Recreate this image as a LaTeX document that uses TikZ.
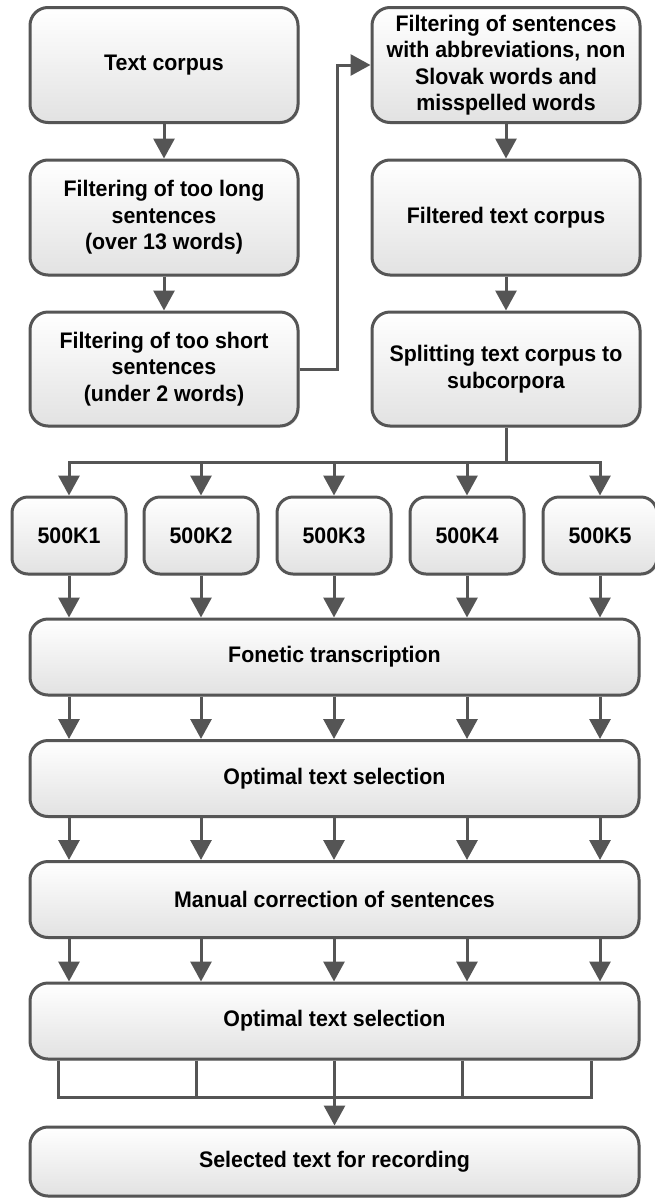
\documentclass[tikz,border=0pt]{standalone}
\usepackage{fontspec}
\setmainfont{Liberation Sans}[FakeStretch=0.95]
\usetikzlibrary{arrows.meta,shadows}

\definecolor{linec}{RGB}{85,85,85}
\definecolor{boxbot}{RGB}{226,226,226}

\tikzset{
  box/.style={draw=linec, line width=3pt, rounded corners=18pt,
    top color=white, bottom color=boxbot, align=center, inner sep=0pt,
    font=\fontsize{22.5}{26.5}\selectfont\bfseries,
    drop shadow={shadow xshift=1.5pt, shadow yshift=-1.5pt, opacity=0.22}},
  colbox/.style={box, minimum width=268pt, minimum height=115pt},
  subbox/.style={box, rounded corners=16pt, minimum width=114pt, minimum height=77pt},
  widebox/.style={box, minimum width=609pt, minimum height=76pt},
  conn/.style={draw=linec, line width=3pt},
  arr/.style={conn, -{Triangle[width=21pt,length=20pt]}}
}

\begin{document}
\begin{tikzpicture}[x=1pt,y=-1pt]
\useasboundingbox (0,0) rectangle (655,1200);

% left column
\node[colbox] (b1) at (164,65)    {Text corpus};
\node[colbox] (b2) at (164,217.5) {Filtering of too long\\sentences\\(over 13 words)};
\node[colbox, minimum height=114pt] (b3) at (164,369) {Filtering of too short\\sentences\\(under 2 words)};

% right column
\node[colbox] (r1) at (506,65)    {Filtering of sentences\\with abbreviations, non\\Slovak words and\\misspelled words};
\node[colbox] (r2) at (506,217.5) {Filtered text corpus};
\node[colbox, minimum height=114pt] (r3) at (506,369) {Splitting text corpus to\\subcorpora};

% subcorpora
\node[subbox] (k1) at (69,535.5)  {500K1};
\node[subbox] (k2) at (201,535.5) {500K2};
\node[subbox] (k3) at (334,535.5) {500K3};
\node[subbox] (k4) at (467,535.5) {500K4};
\node[subbox] (k5) at (600,535.5) {500K5};

% processing stages
\node[widebox] (fon) at (334.5,657)    {Fonetic transcription};
\node[widebox] (op1) at (334.5,778.5)  {Optimal text selection};
\node[widebox] (man) at (334.5,899.5)  {Manual correction of sentences};
\node[widebox] (op2) at (334.5,1021)   {Optimal text selection};
\node[widebox, minimum height=69pt] (sel) at (334.5,1161.5) {Selected text for recording};

% top part
\draw[arr] (b1.south) -- (b2.north);
\draw[arr] (b2.south) -- (b3.north);
\draw[arr] (b3.east) -- ++(38,0) |- (r1.west);
\draw[arr] (r1.south) -- (r2.north);
\draw[arr] (r2.south) -- (r3.north);

% distribution bus
\coordinate (split) at (506,462);
\draw[conn] (r3.south) -- (split);
\foreach \k in {k1,k2,k3,k4,k5}
  \draw[arr] (split) -| (\k.north);

% parallel flows through the stages
\foreach \k in {k1,k2,k3,k4,k5}{
  \draw[arr] (\k.south) -- (\k.south |- fon.north);
  \draw[arr] (\k |- fon.south) -- (\k |- op1.north);
  \draw[arr] (\k |- op1.south) -- (\k |- man.north);
  \draw[arr] (\k |- man.south) -- (\k |- op2.north);
}

% merging bracket
\coordinate (t1) at (58,1097);
\coordinate (t2) at (196,1097);
\coordinate (t3) at (334.5,1097);
\coordinate (t4) at (462,1097);
\coordinate (t5) at (591,1097);
\draw[conn] (t1 |- op2.south) -- (t1) -- (t5) -- (t5 |- op2.south);
\draw[conn] (t2 |- op2.south) -- (t2);
\draw[conn] (t4 |- op2.south) -- (t4);
\draw[arr] (t3 |- op2.south) -- (sel.north);
\end{tikzpicture}
\end{document}
